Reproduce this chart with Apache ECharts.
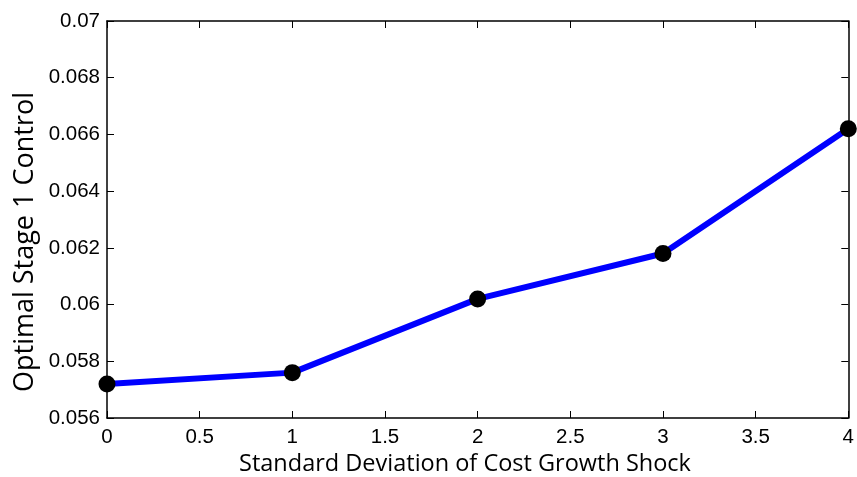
<!DOCTYPE html>
<html><head><meta charset="utf-8">
<script src="https://cdn.jsdelivr.net/npm/echarts@6/dist/echarts.min.js"></script>
<style>html,body{margin:0;padding:0;background:#fff}#c{width:857px;height:477px}</style>
</head><body><div id="c"></div>
<script>
const xValues = [0, 1, 2, 3, 4];
const yValues = [0.0572, 0.0576, 0.0602, 0.0618, 0.0662];
const xTitle = 'Standard Deviation of Cost Growth Shock';
const yTitle = 'Optimal Stage 1 Control';

const chart = echarts.init(document.getElementById('c'));
const tickFont = {fontFamily: 'Liberation Sans, Arial', fontSize: 20.5, color: '#000'};
const axisBase = {
  axisLine: {show: true, onZero: false, lineStyle: {color: '#000', width: 1.5}},
  axisTick: {show: true, inside: true, length: 7, lineStyle: {color: '#000', width: 1}},
  splitLine: {show: false}
};
chart.setOption({
  animation: false,
  grid: {left: 107, right: 8, top: 21, bottom: 59},
  xAxis: [
    Object.assign({}, axisBase, {type: 'value', min: 0, max: 4, interval: 0.5,
      axisLabel: Object.assign({}, tickFont, {margin: 9, formatter: v => String(v)})}),
    Object.assign({}, axisBase, {type: 'value', min: 0, max: 4, interval: 0.5, position: 'top',
      axisLabel: {show: false}})
  ],
  yAxis: [
    Object.assign({}, axisBase, {type: 'value', min: 0.056, max: 0.07, interval: 0.002,
      axisLabel: Object.assign({}, tickFont, {margin: 7, formatter: v => String(+v.toFixed(3))})}),
    Object.assign({}, axisBase, {type: 'value', min: 0.056, max: 0.07, interval: 0.002, position: 'right',
      axisLabel: {show: false}})
  ],
  graphic: [
    {type: 'text', x: 465, y: 464, style: {text: xTitle, fontFamily: 'Open Sans', fontSize: 23.5,
      fill: '#000', align: 'center', verticalAlign: 'middle'}},
    {type: 'text', x: 25, y: 242, rotation: Math.PI / 2, style: {text: yTitle, fontFamily: 'Open Sans', fontSize: 27,
      fill: '#000', align: 'center', verticalAlign: 'middle'}}
  ],
  series: [{
    type: 'line',
    data: xValues.map((x, i) => [x, yValues[i]]),
    lineStyle: {color: '#0000ff', width: 6},
    symbol: 'circle', symbolSize: 17,
    itemStyle: {color: '#000'},
    clip: false,
    z: 5
  }]
});
</script></body></html>
